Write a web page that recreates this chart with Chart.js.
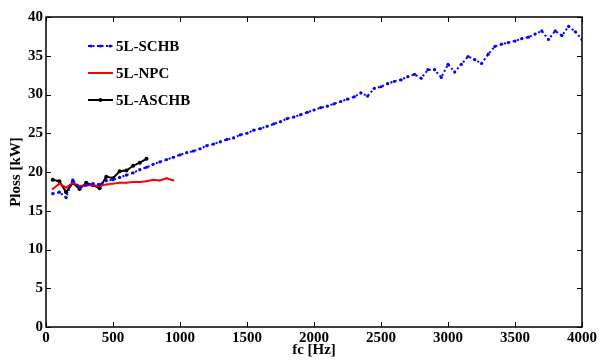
<!DOCTYPE html>
<html>
<head>
<meta charset="utf-8">
<script src="https://cdn.jsdelivr.net/npm/chart.js@4.4.1/dist/chart.umd.min.js"></script>
<style>
  html, body { margin: 0; padding: 0; background: #fff; }
  #wrap { width: 599px; height: 361px; }
</style>
</head>
<body>
<div id="wrap"><canvas id="lossChart" width="599" height="361"></canvas></div>
<script>
// DATA
var fcSCHB = [50,100,150,200,250,300,350,400,450,500,550,600,650,700,750,800,850,900,950,1000,
              1050,1100,1150,1200,1250,1300,1350,1400,1450,1500,1550,1600,1650,1700,1750,1800,1850,1900,1950,2000,
              2050,2100,2150,2200,2250,2300,2350,2400,2450,2500,2550,2600,2650,2700,2750,2800,2850,2900,2950,3000,
              3050,3100,3150,3200,3250,3300,3350,3400,3450,3500,3550,3600,3650,3700,3750,3800,3850,3900,3950,4000];
var lossSCHB = [17.2,17.4,16.7,19.0,18.0,18.3,18.5,18.4,18.9,19.0,19.3,19.6,19.9,20.3,20.6,21.0,21.3,21.6,21.9,22.2,
                22.5,22.7,23.0,23.4,23.6,23.9,24.2,24.4,24.8,25.0,25.4,25.6,25.9,26.2,26.5,26.9,27.1,27.4,27.7,28.0,
                28.3,28.5,28.8,29.1,29.4,29.7,30.2,29.8,30.8,31.0,31.4,31.7,31.9,32.3,32.6,32.1,33.2,33.2,32.2,33.9,
                32.9,33.9,34.9,34.5,34.0,35.2,36.2,36.5,36.7,36.9,37.2,37.4,37.8,38.2,37.1,38.2,37.6,38.8,38.1,37.1];

var fcNPC = [50,100,150,200,250,300,350,400,450,500,550,600,650,700,750,800,850,900,950];
var lossNPC = [17.8,18.5,18.0,18.6,18.2,18.3,18.3,18.2,18.4,18.5,18.6,18.6,18.7,18.7,18.8,19.0,18.9,19.2,18.9];

var fcASCHB = [50,100,150,200,250,300,350,400,450,500,550,600,650,700,750];
var lossASCHB = [19.0,18.8,17.4,18.6,17.8,18.6,18.3,17.9,19.4,19.2,20.1,20.2,20.8,21.2,21.7];

var seriesNames = ['5L-SCHB', '5L-NPC', '5L-ASCHB'];
var xTicks = [0,500,1000,1500,2000,2500,3000,3500,4000];
var yTicks = [0,5,10,15,20,25,30,35,40];

function toPoints(xs, ys) {
    return xs.map(function(x, i){ return {x: x, y: ys[i]}; });
}

var serif = "'Liberation Serif', 'Times New Roman', serif";

// box + inward ticks on all four sides (matlab look)
var boxTicks = {
    id: 'boxTicks',
    afterDraw: function(chart) {
        var ctx = chart.ctx, a = chart.chartArea;
        var xs = chart.scales.x, ys = chart.scales.y;
        var len = 5;
        ctx.save();
        ctx.strokeStyle = '#000';
        ctx.lineWidth = 1;
        ctx.beginPath();
        xTicks.forEach(function(v){
            var px = Math.round(xs.getPixelForValue(v)) + 0.5;
            ctx.moveTo(px, a.bottom); ctx.lineTo(px, a.bottom - len);
            ctx.moveTo(px, a.top); ctx.lineTo(px, a.top + len);
        });
        yTicks.forEach(function(v){
            var py = Math.round(ys.getPixelForValue(v)) + 0.5;
            ctx.moveTo(a.left, py); ctx.lineTo(a.left + len, py);
            ctx.moveTo(a.right, py); ctx.lineTo(a.right - len, py);
        });
        ctx.stroke();
        ctx.lineWidth = 1.5;
        ctx.strokeRect(a.left, a.top, a.right - a.left, a.bottom - a.top);
        ctx.restore();
    }
};

// legend inside the axes, top left
var insideLegend = {
    id: 'insideLegend',
    afterDraw: function(chart) {
        var ctx = chart.ctx;
        var x0 = 88, x1 = 113, rowY = [46, 73, 100];
        ctx.save();
        chart.data.datasets.forEach(function(ds, i){
            var y = rowY[i];
            ctx.strokeStyle = ds.borderColor;
            ctx.lineWidth = ds.borderWidth;
            ctx.setLineDash(ds.borderDash || []);
            ctx.beginPath();
            ctx.moveTo(x0, y); ctx.lineTo(x1, y);
            ctx.stroke();
            ctx.setLineDash([]);
            ctx.fillStyle = ds.pointBackgroundColor;
            if (ds.pointRadius > 0) {
                [x0 + 3, (x0 + x1) / 2, x1 - 3].forEach(function(px, k){
                    if (i > 0 && k !== 1) return;
                    ctx.beginPath();
                    ctx.arc(px, y, ds.pointRadius, 0, Math.PI * 2);
                    ctx.fill();
                });
            }
            ctx.fillStyle = '#000';
            ctx.font = 'bold 15px ' + serif;
            ctx.textBaseline = 'middle';
            ctx.fillText(ds.label, 116, y + 1);
        });
        ctx.restore();
    }
};

function plainLabel(v) { return String(v); }

var ctx = document.getElementById('lossChart').getContext('2d');
var lossChart = new Chart(ctx, {
    type: 'line',
    data: {
        datasets: [{
            label: seriesNames[0],
            data: toPoints(fcSCHB, lossSCHB),
            borderColor: '#0000ff',
            backgroundColor: '#0000ff',
            pointBackgroundColor: '#0000ff',
            pointBorderWidth: 0,
            borderWidth: 2,
            borderDash: [2, 2.5],
            pointRadius: 1.6,
            tension: 0
        }, {
            label: seriesNames[1],
            data: toPoints(fcNPC, lossNPC),
            borderColor: '#ff0000',
            backgroundColor: '#ff0000',
            pointBackgroundColor: '#ff0000',
            pointBorderWidth: 0,
            borderWidth: 2,
            pointRadius: 1,
            tension: 0
        }, {
            label: seriesNames[2],
            data: toPoints(fcASCHB, lossASCHB),
            borderColor: '#000000',
            backgroundColor: '#000000',
            pointBackgroundColor: '#000000',
            pointBorderWidth: 0,
            borderWidth: 2,
            pointRadius: 2,
            tension: 0
        }]
    },
    options: {
        responsive: false,
        animation: false,
        devicePixelRatio: 1,
        layout: { padding: { left: 0, right: 13, top: 17, bottom: 0 } },
        plugins: {
            legend: { display: false },
            tooltip: { enabled: false }
        },
        scales: {
            x: {
                type: 'linear',
                min: 0, max: 4000,
                afterBuildTicks: function(s){ s.ticks = xTicks.map(function(v){ return {value: v}; }); },
                afterFit: function(s){ s.height = 34; },
                grid: { display: false, drawTicks: false },
                border: { display: false },
                ticks: { color: '#000', padding: 2, maxRotation: 0, autoSkip: false, callback: plainLabel,
                         font: { family: serif, size: 15, weight: 'bold' } },
                title: { display: true, text: 'fc [Hz]', color: '#000',
                         padding: { top: 0, bottom: 2 },
                         font: { family: serif, size: 15, weight: 'bold' } }
            },
            y: {
                min: 0, max: 40,
                afterBuildTicks: function(s){ s.ticks = yTicks.map(function(v){ return {value: v}; }); },
                afterFit: function(s){ s.width = 46; },
                grid: { display: false, drawTicks: false },
                border: { display: false },
                ticks: { color: '#000', padding: 3, autoSkip: false, callback: plainLabel,
                         font: { family: serif, size: 15, weight: 'bold' } },
                title: { display: true, text: 'Ploss [kW]', color: '#000',
                         padding: { top: 7, bottom: 0 },
                         font: { family: serif, size: 15, weight: 'bold' } }
            }
        }
    },
    plugins: [boxTicks, insideLegend]
});
</script>
</body>
</html>
